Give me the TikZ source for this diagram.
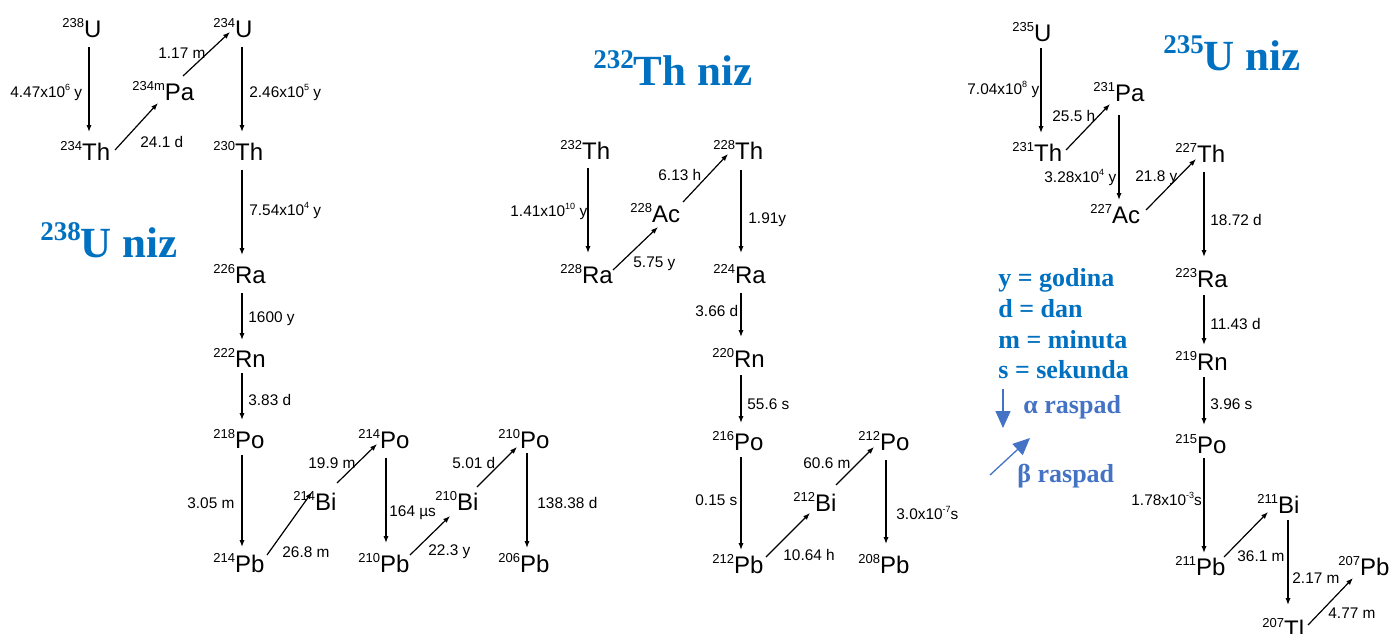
\documentclass[tikz,border=0pt]{standalone}
\usepackage{fontspec}
\setmainfont{Liberation Sans}
\newfontfamily\serifb{Liberation Serif}
\usetikzlibrary{arrows.meta}
\definecolor{tblue}{RGB}{0,112,192}
\definecolor{lblue}{RGB}{68,114,196}
\newcommand\Nuc[2]{\raisebox{5pt}{\fontsize{6.5}{7}\selectfont #1}#2}
\newcommand\Lsup[1]{\raisebox{3.2pt}{\fontsize{4.5}{5}\selectfont #1}}
\newcommand\Tsup[1]{\raisebox{8.5pt}{\fontsize{13.5}{14}\selectfont #1}}
\tikzset{
  nuc/.style={anchor=base west, inner sep=0pt, font=\fontsize{12}{14}\selectfont},
  lab/.style={anchor=base west, inner sep=0pt, font=\fontsize{7.7}{9}\selectfont},
  arr/.style={-{Latex[length=3.5pt,width=2.6pt]}, line width=0.6pt},
  ttl/.style={anchor=base west, inner sep=0pt, text=tblue, font=\serifb\bfseries\fontsize{21.5}{24}\selectfont},
  leg/.style={anchor=base west, inner sep=0pt, text=tblue, font=\serifb\bfseries\fontsize{13}{15}\selectfont},
  legb/.style={leg, text=lblue},
  legarr/.style={draw=lblue, line width=0.65pt, -{Triangle[length=8.5pt,width=7.5pt]}, lblue}
}
\begin{document}
\begin{tikzpicture}[x=0.5pt,y=-0.5pt]
\useasboundingbox[fill=white] (0,0) rectangle (1391,633);

% ---------- 238U series ----------
\node[nuc] (u238)  at (62,37)   {\Nuc{238}{U}};
\node[nuc] (pa234) at (132,100) {\Nuc{234m}{Pa}};
\node[nuc] (u234)  at (213,37)  {\Nuc{234}{U}};
\node[nuc] (th234) at (60,160)  {\Nuc{234}{Th}};
\node[nuc] (th230) at (213,160) {\Nuc{230}{Th}};
\node[nuc] (ra226) at (213,283) {\Nuc{226}{Ra}};
\node[nuc] (rn222) at (213,367) {\Nuc{222}{Rn}};
\node[nuc] (po218) at (213,448) {\Nuc{218}{Po}};
\node[nuc] (pb214) at (213,572) {\Nuc{214}{Pb}};
\node[nuc] (bi214) at (293,510) {\Nuc{214}{Bi}};
\node[nuc] (po214) at (358,448) {\Nuc{214}{Po}};
\node[nuc] (pb210) at (358,572) {\Nuc{210}{Pb}};
\node[nuc] (bi210) at (435,510) {\Nuc{210}{Bi}};
\node[nuc] (po210) at (498,448) {\Nuc{210}{Po}};
\node[nuc] (pb206) at (498,572) {\Nuc{206}{Pb}};

\draw[arr] ([shift={(27,10)}]u238.base west) -- ([shift={(29,-28)}]th234.base west);
\draw[arr] ([shift={(55,-10)}]th234.base west) -- ([shift={(26,3)}]pa234.base west);
\draw[arr] ([shift={(51,-24)}]pa234.base west) -- ([shift={(17,-5)}]u234.base west);
\draw[arr] ([shift={(29,10)}]u234.base west) -- ([shift={(29,-28)}]th230.base west);
\draw[arr] ([shift={(29,10)}]th230.base west) -- ([shift={(29,-28)}]ra226.base west);
\draw[arr] ([shift={(29,10)}]ra226.base west) -- ([shift={(29,-27)}]rn222.base west);
\draw[arr] ([shift={(29,6)}]rn222.base west) -- ([shift={(29,-28)}]po218.base west);
\draw[arr] ([shift={(29,7)}]po218.base west) -- ([shift={(29,-25)}]pb214.base west);
\draw[arr] ([shift={(54,-17)}]pb214.base west) -- ([shift={(19,-18)}]bi214.base west);
\draw[arr] ([shift={(44,-27)}]bi214.base west) -- ([shift={(19,-4)}]po214.base west);
\draw[arr] ([shift={(28,10)}]po214.base west) -- ([shift={(28,-29)}]pb210.base west);
\draw[arr] ([shift={(52,-17)}]pb210.base west) -- ([shift={(15,6)}]bi210.base west);
\draw[arr] ([shift={(42,-23)}]bi210.base west) -- ([shift={(19,-1)}]po210.base west);
\draw[arr] ([shift={(29,5)}]po210.base west) -- ([shift={(29,-24)}]pb206.base west);

\node[lab] (l1)  at (10,97)   {4.47x10\Lsup{6} y};
\node[lab] (l2)  at (158,58)  {1.17 m};
\node[lab] (l3)  at (140,147) {24.1 d};
\node[lab] (l4)  at (249,97)  {2.46x10\Lsup{5} y};
\node[lab] (l5)  at (249,215) {7.54x10\Lsup{4} y};
\node[lab] (l6)  at (248,322) {1600 y};
\node[lab] (l7)  at (248,405) {3.83 d};
\node[lab] (l8)  at (187,508) {3.05 m};
\node[lab] (l9)  at (282,557) {26.8 m};
\node[lab] (l10) at (308,468) {19.9 m};
\node[lab] (l11) at (389,516) {164 µs};
\node[lab] (l12) at (428,555) {22.3 y};
\node[lab] (l13) at (452,468) {5.01 d};
\node[lab] (l14) at (537,508) {138.38 d};

\node[ttl] (t1) at (40,257) {\Tsup{238}U niz};

% ---------- 232Th series ----------
\node[nuc] (th232) at (560,159) {\Nuc{232}{Th}};
\node[nuc] (ra228) at (560,283) {\Nuc{228}{Ra}};
\node[nuc] (ac228) at (630,222) {\Nuc{228}{Ac}};
\node[nuc] (th228) at (713,159) {\Nuc{228}{Th}};
\node[nuc] (ra224) at (713,283) {\Nuc{224}{Ra}};
\node[nuc] (rn220) at (712,367) {\Nuc{220}{Rn}};
\node[nuc] (po216) at (712,450) {\Nuc{216}{Po}};
\node[nuc] (pb212) at (712,573) {\Nuc{212}{Pb}};
\node[nuc] (bi212) at (793,511) {\Nuc{212}{Bi}};
\node[nuc] (po212) at (858,450) {\Nuc{212}{Po}};
\node[nuc] (pb208) at (858,573) {\Nuc{208}{Pb}};

\draw[arr] ([shift={(28,9)}]th232.base west) -- ([shift={(28,-30)}]ra228.base west);
\draw[arr] ([shift={(53,-13)}]ra228.base west) -- ([shift={(28,5)}]ac228.base west);
\draw[arr] ([shift={(53,-20)}]ac228.base west) -- ([shift={(15,-5)}]th228.base west);
\draw[arr] ([shift={(28,11)}]th228.base west) -- ([shift={(28,-30)}]ra224.base west);
\draw[arr] ([shift={(28,10)}]ra224.base west) -- ([shift={(29,-30)}]rn220.base west);
\draw[arr] ([shift={(29,8)}]rn220.base west) -- ([shift={(29,-27)}]po216.base west);
\draw[arr] ([shift={(29,7)}]po216.base west) -- ([shift={(29,-23)}]pb212.base west);
\draw[arr] ([shift={(54,-16)}]pb212.base west) -- ([shift={(17,2)}]bi212.base west);
\draw[arr] ([shift={(43,-26)}]bi212.base west) -- ([shift={(16,-3)}]po212.base west);
\draw[arr] ([shift={(28,10)}]po212.base west) -- ([shift={(28,-29)}]pb208.base west);

\node[lab] (m1)  at (510,216) {1.41x10\Lsup{10} y};
\node[lab] (m2)  at (658,180) {6.13 h};
\node[lab] (m3)  at (633,267) {5.75 y};
\node[lab] (m4)  at (748,223) {1.91y};
\node[lab] (m5)  at (695,316) {3.66 d};
\node[lab] (m6)  at (747,409) {55.6 s};
\node[lab] (m7)  at (695,505) {0.15 s};
\node[lab] (m8)  at (783,560) {10.64 h};
\node[lab] (m9)  at (803,468) {60.6 m};
\node[lab] (m10) at (896,519) {3.0x10\Lsup{-7}s};

\node[ttl] (t2) at (593,85) {\Tsup{232}Th niz};

% ---------- 235U series ----------
\node[nuc] (u235)  at (1012,41)  {\Nuc{235}{U}};
\node[nuc] (th231) at (1012,161) {\Nuc{231}{Th}};
\node[nuc] (pa231) at (1093,101) {\Nuc{231}{Pa}};
\node[nuc] (ac227) at (1090,223) {\Nuc{227}{Ac}};
\node[nuc] (th227) at (1175,162) {\Nuc{227}{Th}};
\node[nuc] (ra223) at (1175,287) {\Nuc{223}{Ra}};
\node[nuc] (rn219) at (1175,370) {\Nuc{219}{Rn}};
\node[nuc] (po215) at (1175,453) {\Nuc{215}{Po}};
\node[nuc] (pb211) at (1175,575) {\Nuc{211}{Pb}};
\node[nuc] (bi211) at (1257,513) {\Nuc{211}{Bi}};
\node[nuc] (pb207) at (1338,575) {\Nuc{207}{Pb}};
\node[nuc] (tl207) at (1262,637) {\Nuc{207}{Tl}};

\draw[arr] ([shift={(29,7)}]u235.base west) -- ([shift={(29,-28)}]th231.base west);
\draw[arr] ([shift={(54,-11)}]th231.base west) -- ([shift={(17,3)}]pa231.base west);
\draw[arr] ([shift={(26,14)}]pa231.base west) -- ([shift={(29,-23)}]ac227.base west);
\draw[arr] ([shift={(56,-13)}]ac227.base west) -- ([shift={(21,-3)}]th227.base west);
\draw[arr] ([shift={(29,10)}]th227.base west) -- ([shift={(29,-30)}]ra223.base west);
\draw[arr] ([shift={(29,8)}]ra223.base west) -- ([shift={(29,-25)}]rn219.base west);
\draw[arr] ([shift={(29,7)}]rn219.base west) -- ([shift={(29,-28)}]po215.base west);
\draw[arr] ([shift={(29,5)}]po215.base west) -- ([shift={(29,-22)}]pb211.base west);
\draw[arr] ([shift={(49,-18)}]pb211.base west) -- ([shift={(11,-1)}]bi211.base west);
\draw[arr] ([shift={(31,7)}]bi211.base west) -- ([shift={(26,-32)}]tl207.base west);
\draw[arr] ([shift={(46,-12)}]tl207.base west) -- ([shift={(15,3)}]pb207.base west);

\node[lab] (r1)  at (967,94)   {7.04x10\Lsup{8} y};
\node[lab] (r2)  at (1052,121) {25.5 h};
\node[lab] (r3)  at (1044,182) {3.28x10\Lsup{4} y};
\node[lab] (r4)  at (1135,181) {21.8 y};
\node[lab] (r5)  at (1210,225) {18.72 d};
\node[lab] (r6)  at (1210,329) {11.43 d};
\node[lab] (r7)  at (1210,409) {3.96 s};
\node[lab] (r8)  at (1131,505) {1.78x10\Lsup{-3}s};
\node[lab] (r9)  at (1237,561) {36.1 m};
\node[lab] (r10) at (1292,583) {2.17 m};
\node[lab] (r11) at (1328,618) {4.77 m};

\node[ttl] (t3) at (1163,70) {\Tsup{235}U niz};

% ---------- legend ----------
\node[leg] (g1) at (998,286) {y = godina};
\node[leg] (g2) at (998,317) {d = dan};
\node[leg] (g3) at (998,348) {m = minuta};
\node[leg] (g4) at (998,378) {s = sekunda};
\node[legb] (g5) at (1023,413) {α raspad};
\node[legb] (g6) at (1017,482) {β raspad};
\coordinate (aS) at (1003,389);
\coordinate (aE) at (1003,428);
\coordinate (bS) at (990,475);
\coordinate (bE) at (1030,438);
\draw[legarr] (aS) -- (aE);
\draw[legarr] (bS) -- (bE);
\end{tikzpicture}
\end{document}
